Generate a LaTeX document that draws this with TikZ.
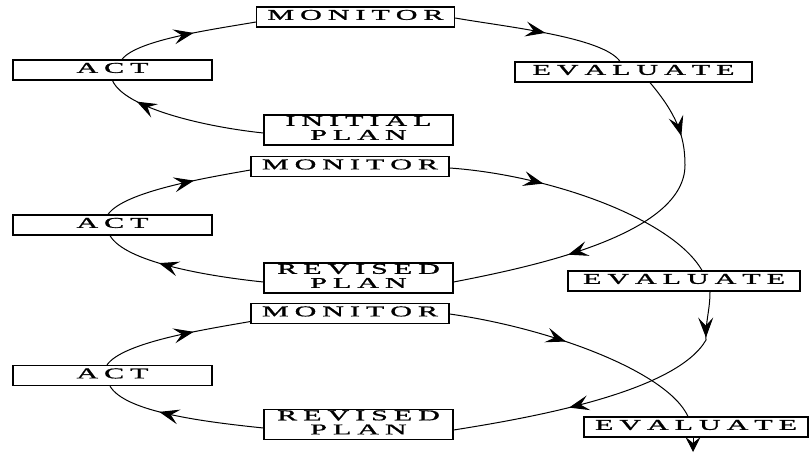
\documentclass[tikz,border=0pt]{standalone}
\usepackage{fontspec}
\usepackage{graphicx}
\setmainfont{Liberation Serif}
\newfontfamily\stagefont[FakeBold=1]{Liberation Serif}
\usetikzlibrary{arrows.meta}
\usetikzlibrary{decorations.markings}
% letters of a label set apart by \trackgap
\newcommand{\trackgap}{3pt}
\newcommand{\tracked}[1]{\trackedloop#1\relax}
\def\trackedloop#1#2{#1\ifx#2\relax\else\kern\trackgap\expandafter\trackedloop\expandafter#2\fi}
\newcommand{\stagelabel}[1]{\scalebox{2}[1]{\stagefont\fontsize{15}{14}\selectfont
  \begin{tabular}{@{}c@{}}#1\end{tabular}}}
\tikzset{
  stage/.style={rectangle,draw,line width=1.2pt,inner sep=0pt,
                minimum height=20pt},
  planbox/.style={stage,minimum width=189pt,minimum height=30pt},
  loopflow/.style={line width=1pt},
  flowtip/.style={postaction={decorate,decoration={markings,
      mark=at position #1 with {\arrow{Stealth[length=20pt,width=15pt,inset=8pt]}}}}},
}
\begin{document}
\begin{tikzpicture}[x=1pt,y=-1pt]
    \useasboundingbox (0,0) rectangle (810,452);
    % First cycle
    \node[stage,minimum width=198pt] (mon1) at (355.5,17)  {\stagelabel{\tracked{MONITOR}}};
    \node[stage,minimum width=199pt] (act1) at (112.5,70)  {\stagelabel{\tracked{ACT}}};
    \node[stage,minimum width=237pt] (eva1) at (633.5,72)  {\stagelabel{\tracked{EVALUATE}}};
    \node[planbox]                   (ini)  at (358.5,130) {\stagelabel{\tracked{INITIAL}\\\tracked{PLAN}}};

    % Second cycle
    \node[stage,minimum width=198pt] (mon2) at (350,166.5) {\stagelabel{\tracked{MONITOR}}};
    \node[stage,minimum width=199pt] (act2) at (112.5,225) {\stagelabel{\tracked{ACT}}};
    \node[stage,minimum width=232pt] (eva2) at (684,281)   {\stagelabel{\tracked{EVALUATE}}};
    \node[planbox]                   (rev2) at (358.5,278) {\stagelabel{\tracked{REVISED}\\\tracked{PLAN}}};

    % Third cycle
    \node[stage,minimum width=198pt] (mon3) at (350,313.5) {\stagelabel{\tracked{MONITOR}}};
    \node[stage,minimum width=199pt] (act3) at (112.5,375.5) {\stagelabel{\tracked{ACT}}};
    \node[stage,minimum width=224pt] (eva3) at (696,427)   {\stagelabel{\tracked{EVALUATE}}};
    \node[planbox]                   (rev3) at (358.5,424.5) {\stagelabel{\tracked{REVISED}\\\tracked{PLAN}}};

    \coordinate (turn1) at (685,165);
    \coordinate (turn2) at (706,340);
    \coordinate (out)   at (693,452);

    % Flows of the first cycle
    \draw[loopflow,flowtip=0.8]
        ([yshift=-3pt]ini.west) to[out=174,in=-66,out distance=60pt,in distance=30pt] (act1.south);
    \draw[loopflow,flowtip=0.55]
        ([xshift=9.5pt]act1.north) to[out=53,in=190,out distance=25pt,in distance=40pt] ([yshift=-5pt]mon1.west);
    \draw[loopflow,flowtip=0.53]
        ([yshift=-1pt]mon1.east) to[out=-10,in=125,out distance=50pt,in distance=30pt] ([xshift=-13.5pt]eva1.north);
    \draw[loopflow,flowtip=0.68]
        ([xshift=16.5pt]eva1.south) to[out=-50,in=90,out distance=40pt,in distance=30pt] (turn1);
    \draw[loopflow,flowtip=0.57]
        (turn1) to[out=-90,in=11,out distance=70pt,in distance=80pt] ([yshift=-4pt]rev2.east);

    % Flows of the second cycle
    \draw[loopflow,flowtip=0.65]
        ([yshift=-4pt]rev2.west) to[out=174,in=-60,out distance=60pt,in distance=30pt] ([xshift=-2.5pt]act2.south);
    \draw[loopflow,flowtip=0.62]
        ([xshift=-4.5pt]act2.north) to[out=55,in=190,out distance=28pt,in distance=45pt] ([yshift=-3.5pt]mon2.west);
    \draw[loopflow,flowtip=0.34]
        ([yshift=-1.5pt]mon2.east) to[out=-4,in=120,out distance=100pt,in distance=60pt] ([xshift=18pt]eva2.north);
    \draw[loopflow,flowtip=0.95]
        ([xshift=26pt]eva2.south) to[out=-90,in=92] (turn2);
    \draw[loopflow,flowtip=0.57]
        (turn2) to[out=-120,in=9,out distance=60pt,in distance=80pt] ([yshift=-5.5pt]rev3.east);

    % Flows of the third cycle
    \draw[loopflow,flowtip=0.65]
        ([yshift=-3.5pt]rev3.west) to[out=174,in=-60,out distance=60pt,in distance=30pt] ([xshift=-2.5pt]act3.south);
    \draw[loopflow,flowtip=0.62]
        ([xshift=-5.5pt]act3.north) to[out=55,in=190,out distance=28pt,in distance=45pt] ([yshift=-8pt]mon3.west);
    \draw[loopflow,flowtip=0.45]
        ([yshift=-0.5pt]mon3.east) to[out=-8,in=115,out distance=100pt,in distance=50pt] ([xshift=-8pt]eva3.north);
    \draw[loopflow,-{Stealth[length=15pt,width=15pt,inset=6pt]}]
        ([xshift=-3pt]eva3.south) -- (out);
\end{tikzpicture}
\end{document}
